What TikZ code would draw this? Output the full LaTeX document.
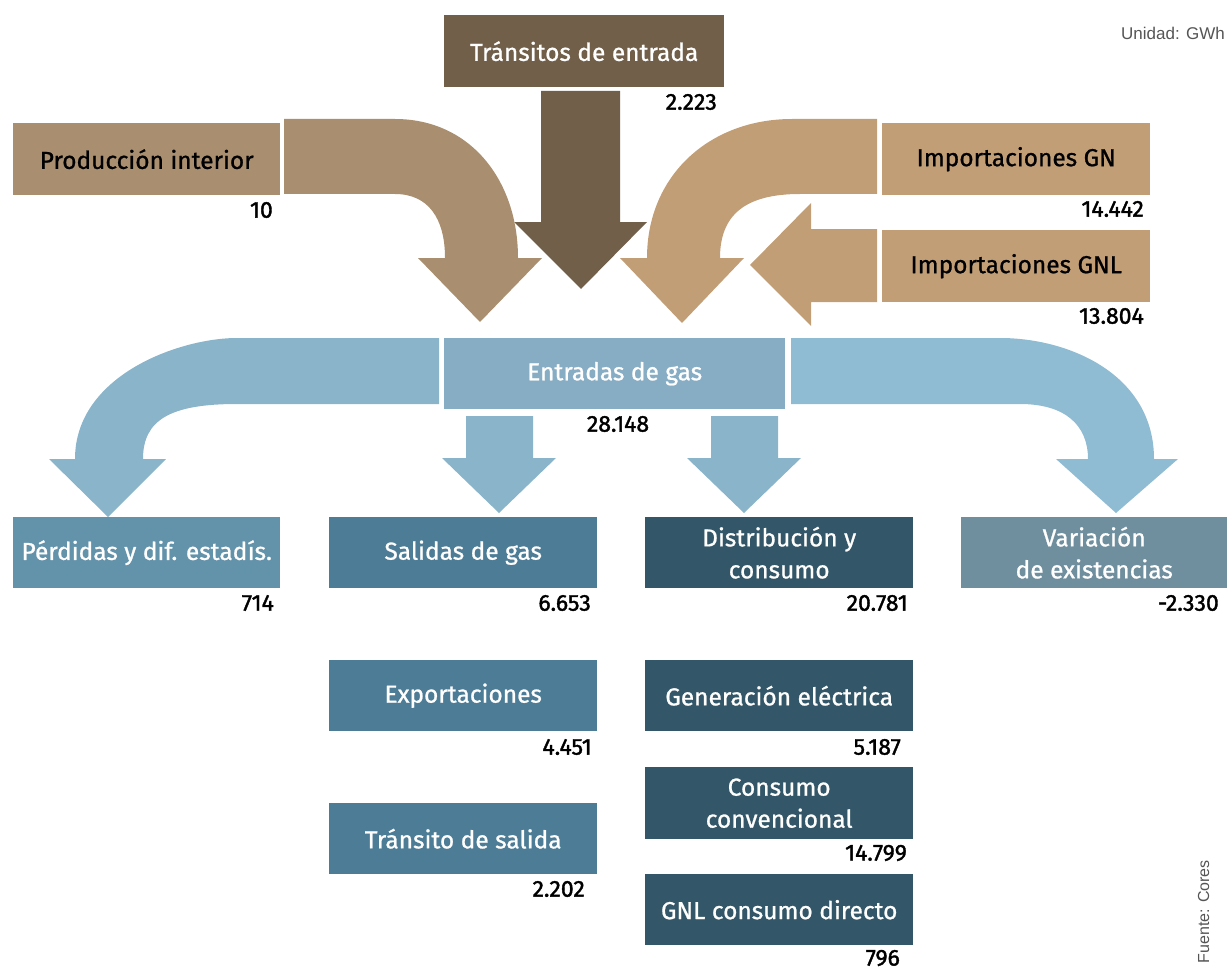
\documentclass[tikz,border=0pt]{standalone}
\usepackage{fontspec}
\setmainfont{Fira Sans}[FakeBold=0.9]
\newfontfamily\numfont{Fira Sans}[FakeBold=1.6]
\newfontfamily\helv{Liberation Sans}
\definecolor{tinC}{HTML}{725F4A}
\definecolor{prodC}{HTML}{A98E6F}
\definecolor{impC}{HTML}{C29E77}
\definecolor{entC}{HTML}{87ADC4}
\definecolor{arrC}{HTML}{8AB4CA}
\definecolor{arrR}{HTML}{8FBBD3}
\definecolor{perC}{HTML}{6393AB}
\definecolor{salC}{HTML}{4D7D96}
\definecolor{distC}{HTML}{335768}
\definecolor{varC}{HTML}{6F8E9E}
\definecolor{noteC}{HTML}{555555}
\tikzset{
  box/.style={rectangle, anchor=north west, inner sep=0pt, align=center,
    minimum width=268pt, minimum height=71pt,
    font=\fontsize{24.5}{32}\selectfont},
  wbox/.style={box, text=white},
  bbox/.style={box, text=black},
  val/.style={anchor=east, inner sep=0pt, font=\numfont\fontsize{23}{26}\selectfont}
}
\begin{document}
\begin{tikzpicture}[x=1pt,y=-1pt]
\useasboundingbox (0,0) rectangle (1227,971);

% ---- block arrows ----
% Transitos de entrada (straight down)
\fill[tinC] (541,91) -- (620,91) -- (620,222) -- (647,222) -- (581,289) -- (514,222) -- (541,222) -- cycle;
% Produccion interior (curved)
\fill[prodC] (284,119) -- (395,119) .. controls (470,119) and (518,180) .. (518,258)
  -- (542,258) -- (480,322) -- (418,258) -- (445,258)
  .. controls (445,218) and (428,194) .. (395,194) -- (284,194) -- cycle;
% Importaciones GN (curved)
\fill[impC] (877,119) -- (792,119) .. controls (710,119) and (647,175) .. (647,258)
  -- (620,258) -- (682,323) -- (744,258) -- (720,258)
  .. controls (720,215) and (745,194) .. (800,194) -- (877,194) -- cycle;
% Importaciones GNL (straight left)
\fill[impC] (877,229) -- (811,229) -- (811,203) -- (750,265) -- (811,326) -- (811,302) -- (877,302) -- cycle;
% Perdidas (curved left-down)
\fill[arrC] (439,338) -- (237,338) .. controls (180,338) and (75,375) .. (75,459)
  -- (49,459) -- (108,517) -- (166,459) -- (143,459)
  .. controls (143,420) and (170,404) .. (237,404) -- (439,404) -- cycle;
% Variacion (curved right-down)
\fill[arrR] (791,338) -- (1000,338) .. controls (1070,338) and (1154,375) .. (1154,459)
  -- (1178,459) -- (1116,513) -- (1056,459) -- (1088,459)
  .. controls (1088,425) and (1065,404) .. (1020,404) -- (791,404) -- cycle;
% Salidas (straight down)
\fill[arrC] (466,416) -- (533,416) -- (533,458) -- (556,458) -- (499,513) -- (442,458) -- (466,458) -- cycle;
% Distribucion (straight down)
\fill[arrC] (711,416) -- (778,416) -- (778,458) -- (801,458) -- (744,513) -- (687,458) -- (711,458) -- cycle;

% ---- boxes ----
\node[wbox, fill=tinC, minimum width=280pt, minimum height=72pt] (tin) at (444,15) {Tránsitos de entrada};
\node[bbox, fill=prodC, minimum width=267pt, minimum height=72pt] (prod) at (13,123) {Producción interior};
\node[bbox, fill=impC, minimum height=72pt] (ign) at (882,123) {Importaciones GN};
\node[bbox, fill=impC, minimum height=72pt] (ignl) at (882,230) {Importaciones GNL};
\node[wbox, fill=entC, minimum width=341pt] (ent) at (444,338) {Entradas de gas};
\node[wbox, fill=perC, minimum width=267pt] (per) at (13,517) {Pérdidas y dif. estadís.};
\node[wbox, fill=salC] (sal) at (329,517) {Salidas de gas};
\node[wbox, fill=distC] (dist) at (645,517) {Distribución y\\consumo};
\node[wbox, fill=varC, minimum width=266pt] (var) at (961,517) {Variación\\de existencias};
\node[wbox, fill=salC] (exp) at (329,660) {Exportaciones};
\node[wbox, fill=salC] (tsal) at (329,803) {Tránsito de salida};
\node[wbox, fill=distC] (gen) at (645,660) {Generación eléctrica};
\node[wbox, fill=distC, minimum height=72pt] (conv) at (645,767) {Consumo\\convencional};
\node[wbox, fill=distC] (gnl) at (645,874) {GNL consumo directo};

% ---- values ----
\node[val] (vtin) at (717,102) {2.223};
\node[val] (vprod) at (273,210) {10};
\node[val] (vign) at (1144,209) {14.442};
\node[val] (vignl) at (1144,316) {13.804};
\node[val, anchor=center] (vent) at (618,424) {28.148};
\node[val] (vper) at (274,603) {714};
\node[val] (vsal) at (591,603) {6.653};
\node[val] (vdist) at (908,603) {20.781};
\node[val] (vvar) at (1219,603) {-2.330};
\node[val] (vexp) at (592,747) {4.451};
\node[val] (vtsal) at (585,889) {2.202};
\node[val] (vgen) at (901,747) {5.187};
\node[val] (vconv) at (907,853) {14.799};
\node[val] (vgnl) at (900,958) {796};

% ---- notes ----
\node[anchor=east, inner sep=0pt, text=noteC, font=\helv\fontsize{17}{19}\selectfont] (unit) at (1225,33) {Unidad: GWh};
\node[anchor=base east, inner sep=0pt, rotate=90, text=noteC, font=\helv\fontsize{16}{18}\selectfont] (src) at (1209,860) {Fuente: Cores};
\end{tikzpicture}
\end{document}
